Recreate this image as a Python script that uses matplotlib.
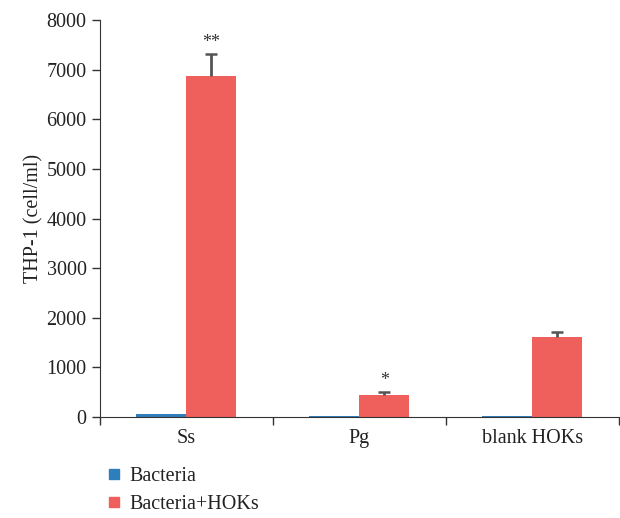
import numpy as np
import matplotlib.pyplot as plt
from matplotlib.lines import Line2D

plt.rcParams['font.family'] = ['Liberation Serif', 'DejaVu Serif']

categories = ['Ss', 'Pg', 'blank HOKs']
bacteria = [60, 15, 30]
bacteria_hoks = [6870, 440, 1610]
hoks_err = [440, 60, 100]
stars = ['**', '*', '']

blue = '#2f7ebc'
red = '#ef605c'

fig = plt.figure(figsize=(6.2, 5.18), dpi=100)
ax = fig.add_axes([0.161, 0.195, 0.837, 0.766])

x = np.arange(len(categories))
w = 0.29
ax.bar(x - w / 2, bacteria, w, color=blue, zorder=2)
ax.bar(x + w / 2, bacteria_hoks, w, color=red, zorder=2)
eb = ax.errorbar(x + w / 2, bacteria_hoks, yerr=[[0] * 3, hoks_err], fmt='none',
                 ecolor='#555555', elinewidth=2, capsize=4.5, capthick=1.8, zorder=3)
eb[1][0].set_visible(False)

for i in range(len(categories)):
    if stars[i]:
        ax.text(x[i] + w / 2, bacteria_hoks[i] + hoks_err[i] + 60, stars[i],
                ha='center', va='bottom', fontsize=13, color='#333333')

ax.set_xlim(-0.5, 2.5)
ax.set_ylim(0, 8000)
ax.set_yticks(np.arange(0, 8001, 1000))
ax.set_xticks(x)
ax.set_xticklabels(categories)
ax.set_xticks([-0.5, 0.5, 1.5, 2.5], minor=True)
ax.tick_params(axis='x', which='major', length=0, pad=9, labelsize=14.5, colors='#222222')
ax.tick_params(axis='x', which='minor', length=6, width=1, direction='out', color='#333333')
ax.tick_params(axis='y', length=6, width=1, labelsize=14.5, direction='out', color='#333333',
               labelcolor='#222222')
ax.set_ylabel('THP-1 (cell/ml)', fontsize=14.5, color='#222222', labelpad=2)
for s in ['top', 'right']:
    ax.spines[s].set_visible(False)
for s in ['left', 'bottom']:
    ax.spines[s].set_color('#333333')

handles = [Line2D([], [], marker='s', linestyle='', color=blue, markersize=7.5),
           Line2D([], [], marker='s', linestyle='', color=red, markersize=7.5)]
fig.legend(handles, ['Bacteria', 'Bacteria+HOKs'], loc='lower left',
           bbox_to_anchor=(0.138, -0.028), frameon=False, fontsize=14.5,
           handletextpad=0.3, labelspacing=0.45, handlelength=1.0,
           labelcolor='#222222')

fig.savefig('out.png', dpi=100)
